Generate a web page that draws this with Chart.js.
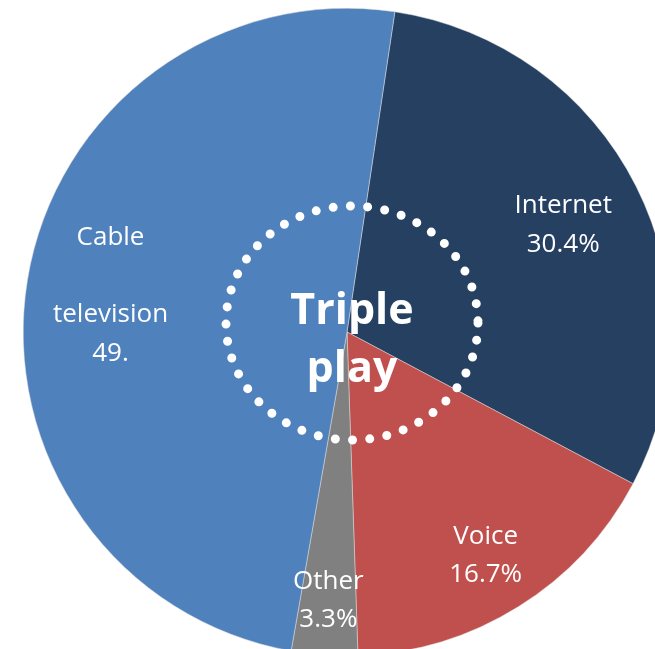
<!DOCTYPE html>
<html><head><meta charset="utf-8">
<script src="https://cdn.jsdelivr.net/npm/chart.js@4/dist/chart.umd.min.js"></script>
<style>
html,body{margin:0;padding:0;background:#fff;}
#wrap{position:relative;width:655px;height:649px;overflow:hidden;}
#c{position:absolute;left:23px;top:8px;}
</style></head><body>
<div id="wrap"><canvas id="c" width="648" height="648"></canvas></div>
<script>
const categories = ["Internet", "Voice", "Other", "Cable television"];
const shares = [30.4, 16.7, 3.3, 49.6];
const labelLines = [["Internet", "30.4%"], ["Voice", "16.7%"], ["Other", "3.3%"], ["Cable", "", "television", "49."]];
const centerLines = ["Triple", "play"];
const colors = ["#254061", "#C0504D", "#808080", "#4F81BD"];
const labelRadius = [0.748, 0.808, 0.826, 0.74];

const labelPlugin = {
  id: 'labels',
  afterDatasetsDraw(chart) {
    const ctx = chart.ctx;
    const meta = chart.getDatasetMeta(0);
    ctx.save();
    ctx.fillStyle = '#fff';
    ctx.textAlign = 'center';
    ctx.textBaseline = 'middle';
    ctx.font = '26px "Open Sans"';
    meta.data.forEach((arc, i) => {
      const p = arc.getProps(['x','y','startAngle','endAngle','outerRadius'], true);
      const a = (p.startAngle + p.endAngle) / 2;
      const r = p.outerRadius * labelRadius[i];
      const cx = p.x + Math.cos(a) * r, cy = p.y + Math.sin(a) * r;
      const lines = labelLines[i];
      const lh = 38.5;
      lines.forEach((t, k) => {
        ctx.fillText(t, cx, cy + 2 + (k - (lines.length - 1) / 2) * lh);
      });
    });
    const arc0 = meta.data[0];
    const cx = arc0.x, cy = arc0.y;
    // dotted ring
    ctx.strokeStyle = '#fff';
    ctx.lineWidth = 9;
    ctx.lineCap = 'round';
    ctx.setLineDash([0, 17.3]);
    ctx.beginPath();
    ctx.ellipse(cx + 5, cy - 9, 126, 117, 0, 0, Math.PI * 2);
    ctx.stroke();
    ctx.setLineDash([]);
    ctx.font = 'bold 43px "Open Sans"';
    ctx.fillText(centerLines[0], cx + 5, cy - 20);
    ctx.fillText(centerLines[1], cx + 5, cy + 38);
    ctx.restore();
  }
};

new Chart(document.getElementById('c'), {
  type: 'pie',
  data: {
    labels: categories,
    datasets: [{ data: shares, backgroundColor: colors, borderWidth: 0.5, borderColor: '#dddddd' }]
  },
  options: {
    responsive: false,
    animation: false,
    rotation: 8.5,
    layout: { padding: 0 },
    plugins: { legend: { display: false }, tooltip: { enabled: false } }
  },
  plugins: [labelPlugin]
});
</script>
</body></html>
